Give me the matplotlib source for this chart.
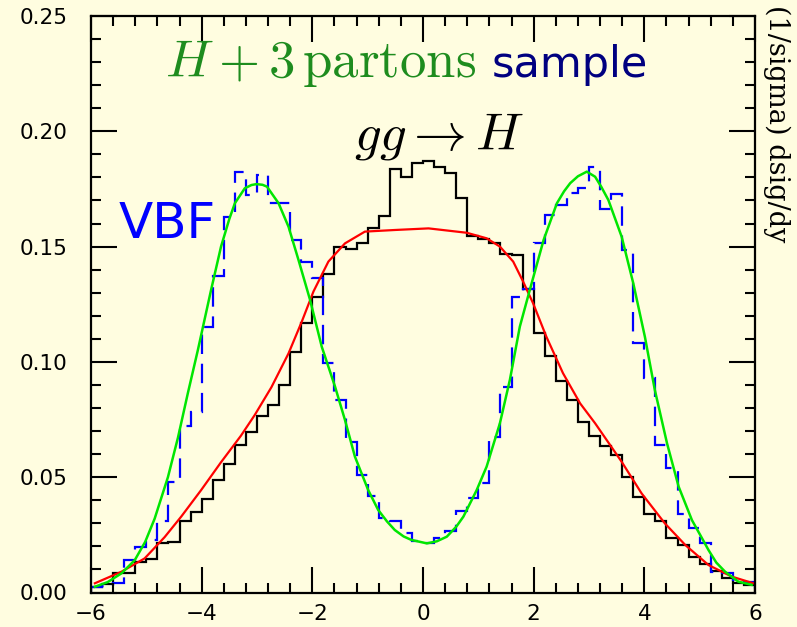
import numpy as np
import matplotlib
matplotlib.use("Agg")
import matplotlib.pyplot as plt
from matplotlib.ticker import MultipleLocator, FormatStrFormatter

plt.rcParams['mathtext.fontset'] = 'cm'
plt.rcParams['axes.unicode_minus'] = True
plt.rcParams['lines.scale_dashes'] = False

# bin edges of the two histograms (bin width 0.2)
bin_edges = np.linspace(-6, 6, 61)

# gg -> H histogram (black)
ggh_hist = [0.0025, 0.0035, 0.0083, 0.0085, 0.0134, 0.0144, 0.0216, 0.0220, 0.0311, 0.0350,
            0.0404, 0.0488, 0.0557, 0.0640, 0.0697, 0.0767, 0.0813, 0.0900, 0.1044, 0.1167,
            0.1283, 0.1381, 0.1497, 0.1488, 0.1514, 0.1579, 0.1633, 0.1835, 0.1800, 0.1864,
            0.1873, 0.1844, 0.1818, 0.1709, 0.1546, 0.1532, 0.1517, 0.1470, 0.1462, 0.1315,
            0.1124, 0.1026, 0.0919, 0.0835, 0.0741, 0.0680, 0.0635, 0.0596, 0.0502, 0.0413,
            0.0339, 0.0311, 0.0235, 0.0206, 0.0153, 0.0124, 0.0095, 0.0064, 0.0043, 0.0033]

# VBF histogram (blue dashed)
vbf_hist = [0.0022, 0.0030, 0.0040, 0.0141, 0.0199, 0.0228, 0.0311, 0.0480, 0.0722, 0.0784,
            0.1150, 0.1373, 0.1630, 0.1825, 0.1724, 0.1810, 0.1688, 0.1688, 0.1529, 0.1435,
            0.1363, 0.0994, 0.0835, 0.0654, 0.0510, 0.0420, 0.0322, 0.0311, 0.0257, 0.0225,
            0.0213, 0.0235, 0.0268, 0.0355, 0.0410, 0.0473, 0.0676, 0.0893, 0.1283, 0.1315,
            0.1514, 0.1637, 0.1680, 0.1731, 0.1753, 0.1847, 0.1662, 0.1728, 0.1485, 0.1081,
            0.0932, 0.0640, 0.0539, 0.0340, 0.0278, 0.0216, 0.0088, 0.0086, 0.0055, 0.0045]

# VBF fit (green)
vbf_fit_x = [-5.93, -5.70, -5.45, -5.21, -5.02, -4.85, -4.61, -4.43, -4.25, -4.07, -3.83, -3.65,
             -3.50, -3.40, -3.22, -3.10, -3.01, -2.90, -2.82, -2.61, -2.43, -2.25, -2.04, -1.83,
             -1.59, -1.41, -1.23, -0.99, -0.81, -0.65, -0.51, -0.35, -0.21, 0.07, 0.25, 0.43,
             0.60, 0.73, 0.97, 1.15, 1.39, 1.57, 1.75, 1.93, 2.18, 2.42, 2.55, 2.66, 2.80,
             2.96, 3.11, 3.22, 3.35, 3.59, 3.80, 4.01, 4.19, 4.41, 4.62, 4.86, 5.02, 5.16,
             5.30, 5.46, 5.70, 5.94]
vbf_fit_y = [0.0025, 0.0045, 0.0083, 0.0140, 0.0220, 0.0320, 0.0500, 0.0670, 0.0864, 0.1050,
             0.1312, 0.1500, 0.1620, 0.1688, 0.1753, 0.1767, 0.1771, 0.1768, 0.1760, 0.1688,
             0.1586, 0.1442, 0.1268, 0.1066, 0.0893, 0.0748, 0.0589, 0.0444, 0.0358, 0.0308,
             0.0271, 0.0243, 0.0228, 0.0213, 0.0222, 0.0242, 0.0285, 0.0329, 0.0444, 0.0546,
             0.0734, 0.0922, 0.1153, 0.1312, 0.1529, 0.1688, 0.1740, 0.1775, 0.1805, 0.1825,
             0.1803, 0.1760, 0.1702, 0.1543, 0.1341, 0.1109, 0.0878, 0.0647, 0.0459, 0.0314,
             0.0245, 0.0184, 0.0130, 0.0090, 0.0047, 0.0033]

# gg -> H fit (red)
ggh_fit_x = [-5.93, -5.45, -5.03, -4.67, -4.37, -4.01, -3.65, -3.29, -3.04, -2.74, -2.43, -2.19,
             -1.98, -1.71, -1.41, -1.05, -0.51, 0.10, 0.79, 1.15, 1.39, 1.63, 1.81, 1.99,
             2.23, 2.53, 2.84, 3.11, 3.59, 3.95, 4.37, 4.74, 5.16, 5.58, 5.97]
ggh_fit_y = [0.0040, 0.0090, 0.0148, 0.0240, 0.0329, 0.0444, 0.0565, 0.0680, 0.0770, 0.0890,
             0.1037, 0.1175, 0.1305, 0.1435, 0.1514, 0.1565, 0.1572, 0.1579, 0.1560, 0.1536,
             0.1500, 0.1435, 0.1348, 0.1254, 0.1109, 0.0951, 0.0820, 0.0734, 0.0567, 0.0430,
             0.0300, 0.0206, 0.0119, 0.0069, 0.0040]

bg = '#fffde0'
fig = plt.figure(figsize=(7.97, 6.27), dpi=100, facecolor=bg)
ax = fig.add_axes([91/797, 1-592.5/627, 664/797, 576.5/627], facecolor=bg)

ax.stairs(ggh_hist, bin_edges, color='black', lw=1.6)
ax.stairs(vbf_hist, bin_edges, color='#0000ff', lw=1.6, linestyle=(0, (14, 7)))
ax.plot(ggh_fit_x, ggh_fit_y, color='#ff0000', lw=1.6)
ax.plot(vbf_fit_x, vbf_fit_y, color='#00e600', lw=1.8)

ax.set_xlim(-6, 6)
ax.set_ylim(0, 0.25)
ax.xaxis.set_major_locator(MultipleLocator(2))
ax.xaxis.set_minor_locator(MultipleLocator(0.4))
ax.yaxis.set_major_locator(MultipleLocator(0.05))
ax.yaxis.set_minor_locator(MultipleLocator(0.01))
ax.yaxis.set_major_formatter(FormatStrFormatter('%.2f'))
ax.tick_params(which='both', direction='in', top=True, right=True, width=1.5, labelsize=15.5)
ax.tick_params(which='major', length=19)
ax.tick_params(which='minor', length=7)
ax.tick_params(axis='y', pad=17)
ax.tick_params(axis='x', pad=8)
for s in ax.spines.values():
    s.set_linewidth(1.6)

ax.text(-4.66, 0.2235, r'$H+3\,\mathrm{partons}$', color='#1e8c1e', fontsize=38, va='baseline')
ax.text(1.25, 0.2235, 'sample', color='#000080', fontsize=31, va='baseline')
ax.text(-1.25, 0.1919, r'$gg\to H$', color='black', fontsize=38, va='baseline')
ax.text(-5.51, 0.1537, 'VBF', color='#0000ff', fontsize=36, va='baseline')

fig.text(777/797, 1-5/627, '(1/sigma) dsig/dy', rotation=270, ha='center', va='top',
         family='DejaVu Serif', fontsize=19.5)

fig.savefig('out.png', dpi=100, facecolor=bg)
